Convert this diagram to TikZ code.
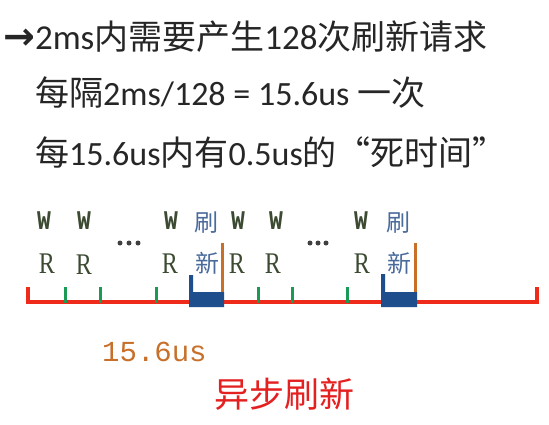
\documentclass[tikz,border=0pt]{standalone}
\usepackage{fontspec}
\setmainfont{Liberation Serif}
\newfontfamily\cjk{Noto Sans CJK SC}
\newfontfamily\latf{Carlito}
\newfontfamily\arrowf{DejaVu Sans}
\newfontfamily\monof{Liberation Mono}
\definecolor{redline}{HTML}{EE2A1A}
\definecolor{tickgreen}{HTML}{1A9A55}
\definecolor{blockblue}{HTML}{1F4E8C}
\definecolor{orangeline}{HTML}{C8702A}
\definecolor{wrcol}{HTML}{3C4A32}
\definecolor{labblue}{HTML}{4A6A9C}
\definecolor{titlered}{HTML}{E42020}
\begin{document}
\begin{tikzpicture}[x=1pt,y=-1pt,
  headtxt/.style={inner sep=0pt, anchor=west, text=black!85, font=\cjk\fontsize{34}{40}\selectfont},
  wlab/.style={inner sep=0pt, text=wrcol, xscale=0.85, transform shape, font=\monof\bfseries\fontsize{27}{30}\selectfont},
  rlab/.style={inner sep=0pt, text=wrcol, xscale=0.8, transform shape, font=\fontsize{30}{32}\selectfont},
  shualab/.style={inner sep=0pt, text=labblue, font=\cjk\fontsize{24}{28}\selectfont},
  tickmark/.style={draw=tickgreen, line width=3pt},
  baseln/.style={draw=redline, line width=4pt},
  refblock/.style={fill=blockblue},
  refline/.style={draw=orangeline, line width=3pt},
  dotmark/.style={fill=black!75, circle, inner sep=0pt, minimum size=5pt}
]
\useasboundingbox[fill=white] (0,0) rectangle (549,424);

% header text
\node[headtxt] (l1) at (3,37) {{\arrowf\bfseries\fontsize{38}{40}\selectfont →}{\latf\fontsize{35}{40}\selectfont 2ms}内需要产生{\latf\fontsize{35}{40}\selectfont 128}次刷新请求};
\node[headtxt] (l2) at (35,93) {每隔{\latf 2ms/128 = 15.6us }一次};
\node[headtxt] (l3) at (35,152) {每{\latf 15.6us}内有{\latf 0.5us}的“死时间”};

% baseline
\draw[baseln] (28,287) -- (28,302) -- (537,302) -- (537,287);

% green ticks
\foreach \xx in {65,100,156,258,292,347} {
  \draw[tickmark] (\xx,287) -- (\xx,303);
}

% refresh blocks
\fill[refblock] (189,275) -- (193,275) -- (193,292) -- (224,292) -- (224,307) -- (189,307) -- cycle;
\draw[refline] (222,243) -- (222,292);
\fill[refblock] (381,274) -- (385,274) -- (385,292) -- (417,292) -- (417,307) -- (381,307) -- cycle;
\draw[refline] (415,243) -- (415,292);

% W / R labels
\node[wlab] (w1) at (44,221) {W};
\node[wlab] (w2) at (84,221) {W};
\node[wlab] (w3) at (171,221) {W};
\node[wlab] (w4) at (238,221) {W};
\node[wlab] (w5) at (276,221) {W};
\node[wlab] (w6) at (361,221) {W};
\node[rlab] (r1) at (47,264) {R};
\node[rlab] (r2) at (84,265) {R};
\node[rlab] (r3) at (170,264) {R};
\node[rlab] (r4) at (237,264) {R};
\node[rlab] (r5) at (273,264) {R};
\node[rlab] (r6) at (362,264) {R};

% dots
\foreach \xx in {120,129,138,310,318,326} {
  \node[dotmark] at (\xx,243) {};
}

% refresh labels
\node[shualab] (s1) at (206,223) {刷};
\node[shualab] (x1) at (207,263) {新};
\node[shualab] (s2) at (398,223) {刷};
\node[shualab] (x2) at (399,263) {新};

% bottom labels
\node[inner sep=0pt, anchor=west, text=orangeline, font=\monof\fontsize{29}{32}\selectfont] (period) at (102,352) {15.6us};
\node[inner sep=0pt, anchor=west, text=titlered, font=\cjk\fontsize{35}{40}\selectfont] (title) at (214,394) {异步刷新};
\end{tikzpicture}
\end{document}
